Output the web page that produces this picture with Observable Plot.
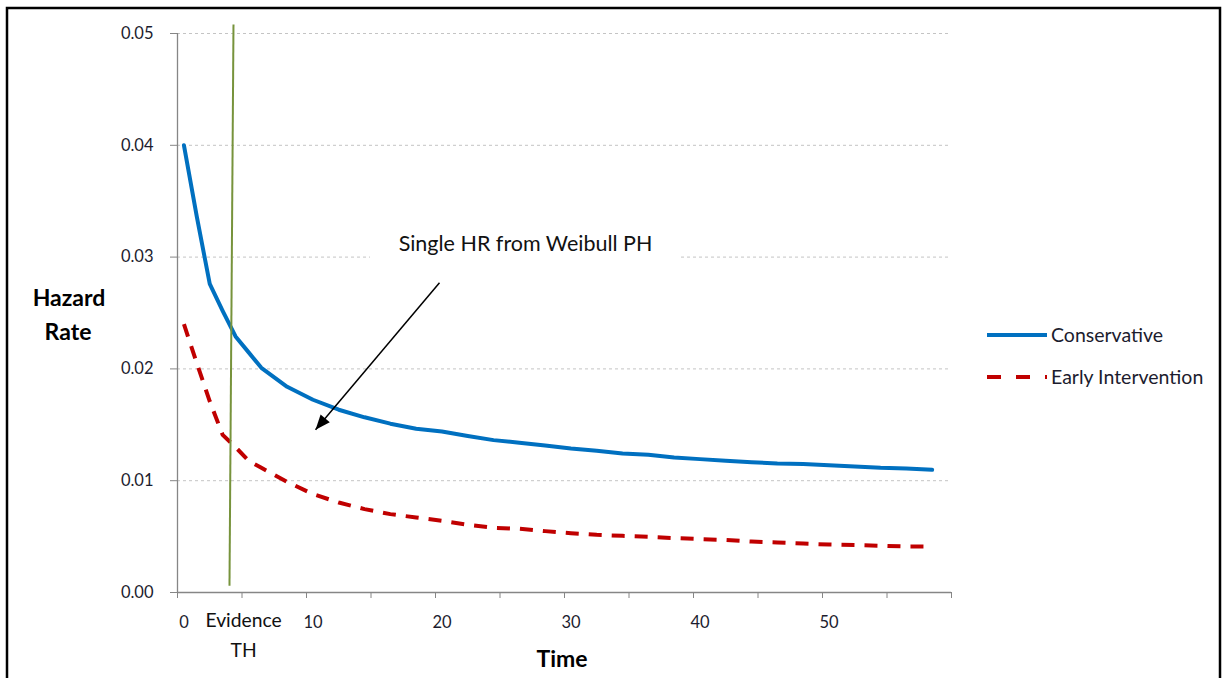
<!DOCTYPE html>
<html>
<head>
<meta charset="utf-8">
<script src="https://cdn.jsdelivr.net/npm/d3@7"></script>
<script src="https://cdn.jsdelivr.net/npm/@observablehq/plot@0.6"></script>
<style>
  html, body { margin: 0; padding: 0; background: #ffffff; }
  #chart { width: 1223px; height: 678px; overflow: hidden; }
</style>
</head>
<body>
<div id="chart"></div>
<script>
// ---- data ----
const times = [0, 1, 2, 3, 4, 5, 6, 8, 10, 12, 14, 16, 18, 20, 22, 24, 26, 28, 30, 32, 34, 36, 38, 40, 42, 44, 46, 48, 50, 52, 54, 56, 58];
const conservative = [0.0400, 0.0336, 0.0276, 0.0252, 0.0229, 0.0215, 0.0201, 0.0184, 0.01724, 0.01635, 0.01567, 0.0151, 0.01464, 0.0144, 0.0140, 0.01363, 0.0134, 0.01315, 0.01288, 0.01267, 0.01243, 0.01232, 0.01208, 0.01193, 0.01178, 0.01166, 0.01154, 0.0115, 0.01139, 0.01127, 0.01115, 0.0111, 0.01097];
const earlyIntervention = [0.0240, 0.0205, 0.0171, 0.0141, 0.0130, 0.0118, 0.01115, 0.0099, 0.0088, 0.00805, 0.00746, 0.00701, 0.00671, 0.00641, 0.00606, 0.00579, 0.0057, 0.00549, 0.00531, 0.00516, 0.00507, 0.00498, 0.00487, 0.00478, 0.00469, 0.00456, 0.00447, 0.00438, 0.00429, 0.00424, 0.00418, 0.00411, 0.0041];
const seriesNames = ["Conservative", "Early Intervention"];
const yTicks = [0, 0.01, 0.02, 0.03, 0.04, 0.05];
const xTickLabels = [0, 10, 20, 30, 40, 50];
const xTickMarks = [-0.5, 4.5, 9.5, 14.5, 19.5, 24.5, 29.5, 34.5, 39.5, 44.5, 49.5, 54.5, 59.5];
const evidenceLine = [{x1: 3.53, y1: 0.0006, x2: 3.84, y2: 0.0508}];
const evidenceLabel = [{x: 4.62, y: -0.0036, text: "Evidence\nTH"}];
const annotation = [{x: 26.48, y: 0.0312, text: "Single HR from Weibull PH"}];
const annotationBox = [{x1: 14.46, x2: 38.49, y1: 0.02953, y2: 0.0328}];
const pointer = [{x1: 19.81, y1: 0.0277, x2: 10.2, y2: 0.01455}];

const consRows = times.map((t, i) => ({t, v: conservative[i]}));
const earlyRows = times.map((t, i) => ({t, v: earlyIntervention[i]}));

const blue = "#0070C0";
const red = "#C00000";
const green = "#77933C";
const axisGray = "#868686";
const textColor = "#1c1c2e";
const font = "Lato, 'Open Sans', sans-serif";

function filledArrow(color) {
  const ns = "http://www.w3.org/2000/svg";
  const m = document.createElementNS(ns, "marker");
  m.setAttribute("viewBox", "-10 -4 10 8");
  m.setAttribute("markerWidth", "10");
  m.setAttribute("markerHeight", "8");
  m.setAttribute("orient", "auto");
  m.setAttribute("overflow", "visible");
  const p = document.createElementNS(ns, "path");
  p.setAttribute("d", "M-10,-4L0,0L-10,4Z");
  p.setAttribute("fill", color);
  p.setAttribute("stroke", "none");
  m.appendChild(p);
  return m;
}

const svg = Plot.plot({
  width: 1223,
  height: 678,
  marginLeft: 177,
  marginRight: 272,
  marginTop: 33,
  marginBottom: 86,
  style: {fontFamily: font, fontSize: "16px", color: textColor, background: "#ffffff", overflow: "visible"},
  x: {domain: [-0.5, 59.5]},
  y: {domain: [0, 0.05]},
  marks: [
    Plot.ruleY(yTicks.slice(1), {stroke: "#c4c4c4", strokeWidth: 1, strokeDasharray: "3,3"}),
    Plot.rect(annotationBox, {x1: "x1", x2: "x2", y1: "y1", y2: "y2", fill: "#ffffff"}),
    Plot.text(annotation, {x: "x", y: "y", text: "text", fontSize: 21.5, fill: "#111111"}),
    Plot.ruleY([0], {stroke: axisGray, strokeWidth: 1.3}),
    Plot.ruleX([-0.5], {stroke: axisGray, strokeWidth: 1.3}),
    Plot.axisY(yTicks, {tickSize: 7, tickPadding: 17, tickFormat: d3.format(".2f"), stroke: axisGray, fill: textColor, label: null, fontSize: 16.5}),
    Plot.axisX(xTickMarks, {tickSize: 6, tickFormat: () => "", stroke: axisGray, label: null}),
    Plot.axisX(xTickLabels, {tickSize: 0, tickPadding: 24, fill: textColor, label: null, fontSize: 16.5}),
    Plot.line(earlyRows, {x: "t", y: "v", stroke: red, strokeWidth: 4, strokeDasharray: "13,10", strokeLinecap: "butt"}),
    Plot.line(consRows, {x: "t", y: "v", stroke: blue, strokeWidth: 4}),
    Plot.link(evidenceLine, {x1: "x1", y1: "y1", x2: "x2", y2: "y2", stroke: green, strokeWidth: 2}),
    Plot.text(evidenceLabel, {x: "x", y: "y", text: "text", fontSize: 19.3, lineHeight: 1.55, fill: "#111111"}),
    Plot.link(pointer, {x1: "x1", y1: "y1", x2: "x2", y2: "y2", stroke: "#000000", strokeWidth: 1.5, markerEnd: filledArrow})
  ]
});

// Frame, axis titles and legend
const s = d3.select(svg);
s.append("rect").attr("x", 7).attr("y", 8).attr("width", 1213).attr("height", 720)
  .attr("fill", "none").attr("stroke", "#000").attr("stroke-width", 2.5);

const titles = s.append("g").attr("font-family", font).attr("font-weight", "bold").attr("fill", "#000")
  .attr("font-size", 23).attr("text-anchor", "middle");
titles.append("text").attr("x", 69).attr("y", 298).attr("dy", "0.35em").text("Hazard");
titles.append("text").attr("x", 68).attr("y", 332).attr("dy", "0.35em").text("Rate");
titles.append("text").attr("x", 562).attr("y", 659).attr("dy", "0.35em").text("Time");

const legend = s.append("g").attr("font-family", font).attr("font-size", 19.5).attr("fill", textColor)
  .attr("text-anchor", "start");
const legendItems = [
  {name: seriesNames[0], color: blue, dash: null, y: 335},
  {name: seriesNames[1], color: red, dash: "14,15", y: 377}
];
legendItems.forEach(d => {
  const l = legend.append("line").attr("x1", 987).attr("x2", 1047).attr("y1", d.y).attr("y2", d.y)
    .attr("stroke", d.color).attr("stroke-width", 4);
  if (d.dash) l.attr("stroke-dasharray", d.dash);
  legend.append("text").attr("x", 1051).attr("y", d.y).attr("dy", "0.35em").text(d.name);
});

document.getElementById("chart").appendChild(svg);
</script>
</body>
</html>
